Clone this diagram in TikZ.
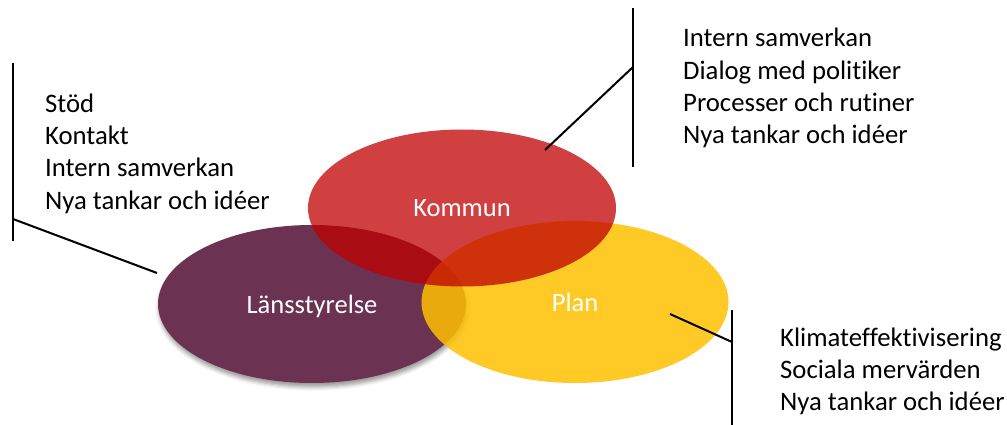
\documentclass[tikz,border=0pt]{standalone}
\usepackage{fontspec}
\setmainfont{Carlito}[Ligatures={NoCommon,NoContextual}]
\usetikzlibrary{shapes.geometric,shadows.blur}
\definecolor{kred}{RGB}{192,0,0}
\definecolor{pyellow}{RGB}{255,192,0}
\definecolor{lpurple}{RGB}{107,50,82}
\tikzset{
  blob/.style={ellipse, inner sep=0pt, text=white, text opacity=1},
  lbl/.style={anchor=base, inner sep=0pt, text=white, font=\fontsize{26.5}{32}\selectfont},
  item/.style={anchor=base west, inner sep=0pt, font=\fontsize{26.7}{32}\selectfont},
  bar/.style={line width=2pt, black}
}
\begin{document}
\begin{tikzpicture}[x=1pt,y=-1pt]
\useasboundingbox (0,0) rectangle (1007,425);
% ellipses
\node[blob, fill=lpurple, minimum width=308pt, minimum height=158pt,
  blur shadow={shadow xshift=1pt, shadow yshift=-4pt, shadow blur radius=4pt, shadow opacity=40}]
  (lans) at (312,304) {};
\node[blob, fill=pyellow, fill opacity=0.85, minimum width=307pt, minimum height=162pt]
  (plan) at (575,302) {};
\node[blob, fill=kred, fill opacity=0.75, minimum width=308pt, minimum height=157pt]
  (kommun) at (462,208) {};
% labels
\node[lbl] (tl) at (312,313) {Länsstyrelse};
\node[lbl] (tp) at (575,311) {Plan};
\node[lbl] (tk) at (462,216) {Kommun};
% left list
\coordinate (l1) at (13,63);
\coordinate (l2) at (13,241);
\coordinate (lj) at (13,219);
\coordinate (le) at (157,273);
\draw[bar] (l1) -- (l2);
\draw[bar] (lj) -- (le);
\node[item] (a1) at (45,113) {Stöd};
\node[item] (a2) at (45,145) {Kontakt};
\node[item] (a3) at (45,177) {Intern samverkan};
\node[item] (a4) at (45,209) {Nya tankar och idéer};
% top right list
\coordinate (k1) at (633,8);
\coordinate (k2) at (633,167);
\coordinate (kj) at (633,67);
\coordinate (ke) at (545,150);
\draw[bar] (k1) -- (k2);
\draw[bar] (kj) -- (ke);
\node[item] (b1) at (683,47) {Intern samverkan};
\node[item] (b2) at (683,80) {Dialog med politiker};
\node[item] (b3) at (683,112) {Processer och rutiner};
\node[item] (b4) at (683,144) {Nya tankar och idéer};
% bottom right list
\coordinate (p1) at (732,310);
\coordinate (p2) at (732,425);
\coordinate (pj) at (732,342);
\coordinate (pe) at (670,314);
\draw[bar] (p1) -- (p2);
\draw[bar] (pj) -- (pe);
\node[item] (c1) at (780,346) {Klimateffektivisering};
\node[item] (c2) at (780,378) {Sociala mervärden};
\node[item] (c3) at (780,410) {Nya tankar och idéer};
\end{tikzpicture}
\end{document}
